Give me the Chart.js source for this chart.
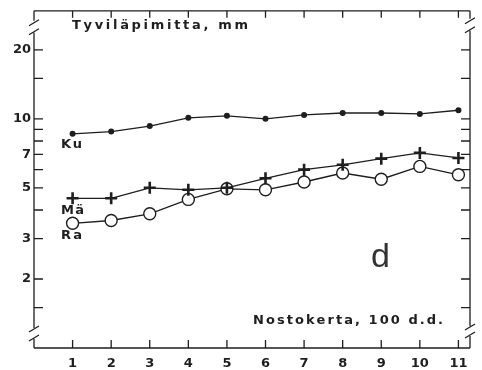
<!DOCTYPE html>
<html lang="fi">
<head>
<meta charset="UTF-8">
<title>Tyviläpimitta</title>
<script src="https://cdn.jsdelivr.net/npm/chart.js"></script>
<style>
  body { margin: 0; background: #fff; }
  canvas { display: block; }
</style>
</head>
<body>
<canvas id="chart" width="482" height="370"></canvas>
<script>
// data (log y axis)
const categories = [1, 2, 3, 4, 5, 6, 7, 8, 9, 10, 11];
const kuValues = [8.6, 8.8, 9.3, 10.1, 10.3, 10.0, 10.4, 10.6, 10.6, 10.5, 10.9];
const maValues = [4.5, 4.5, 5.0, 4.9, 5.0, 5.5, 6.0, 6.3, 6.7, 7.1, 6.75];
const raValues = [3.5, 3.6, 3.85, 4.45, 4.95, 4.9, 5.3, 5.8, 5.45, 6.2, 5.7];
const yTickValues = [1.5, 2, 3, 4, 5, 6, 7, 8, 9, 10, 15, 20];
const yTickLabels = [2, 3, 5, 7, 10, 20];

const ink = '#1e1e1e';
const boldFont = 'bold 13px "DejaVu Sans"';

function pts(values) {
    return categories.map((c, i) => ({ x: c, y: values[i] }));
}

// draw text with even letter spacing so it fills a given width
function spaced(ctx, text, x, y, width) {
    const chars = [...text];
    let total = 0;
    chars.forEach(ch => total += ctx.measureText(ch).width);
    const gap = chars.length > 1 ? (width - total) / (chars.length - 1) : 0;
    let cx = x;
    chars.forEach(ch => {
        ctx.fillText(ch, cx, y);
        cx += ctx.measureText(ch).width + gap;
    });
}

const framePlugin = {
    id: 'frame',
    beforeDatasetsDraw(chart) {
        const { ctx, chartArea: a, scales } = chart;
        const xs = scales.x, ys = scales.y;
        ctx.save();
        ctx.strokeStyle = ink;
        ctx.lineWidth = 1.3;
        ctx.beginPath();
        // top and bottom edges
        ctx.moveTo(a.left, a.top); ctx.lineTo(a.right, a.top);
        ctx.moveTo(a.left, a.bottom); ctx.lineTo(a.right, a.bottom);
        // left axis with two breaks
        ctx.moveTo(a.left, a.top); ctx.lineTo(a.left, a.top + 10);
        ctx.moveTo(a.left, a.top + 22); ctx.lineTo(a.left, a.bottom - 20);
        ctx.moveTo(a.left, a.bottom - 9); ctx.lineTo(a.left, a.bottom);
        // right axis with two breaks
        ctx.moveTo(a.right, a.top); ctx.lineTo(a.right, a.top + 8);
        ctx.moveTo(a.right, a.top + 20); ctx.lineTo(a.right, a.bottom - 22);
        ctx.moveTo(a.right, a.bottom - 12); ctx.lineTo(a.right, a.bottom);
        // break slashes
        [[a.left, a.top + 12], [a.left, a.top + 21], [a.left, a.bottom - 19], [a.left, a.bottom - 10],
         [a.right, a.top + 10], [a.right, a.top + 19], [a.right, a.bottom - 21], [a.right, a.bottom - 13]]
            .forEach(([x, y]) => { ctx.moveTo(x - 5, y + 3); ctx.lineTo(x + 5, y - 3); });
        // inward ticks on left and right
        ys.ticks.forEach(t => {
            const y = ys.getPixelForValue(t.value);
            ctx.moveTo(a.left, y); ctx.lineTo(a.left + 9, y);
            ctx.moveTo(a.right, y); ctx.lineTo(a.right - 9, y);
        });
        // inward ticks on top and bottom
        xs.ticks.forEach(t => {
            const x = xs.getPixelForValue(t.value);
            ctx.moveTo(x, a.top); ctx.lineTo(x, a.top + 7);
            ctx.moveTo(x, a.bottom); ctx.lineTo(x, a.bottom - 8);
        });
        ctx.stroke();
        ctx.restore();
    },
    afterDraw(chart) {
        const { ctx } = chart;
        ctx.save();
        ctx.fillStyle = ink;
        ctx.font = boldFont;
        ctx.textBaseline = 'middle';
        spaced(ctx, 'Tyviläpimitta, mm', 72, 26, 176);
        spaced(ctx, 'Nostokerta, 100 d.d.', 253, 321, 190);
        spaced(ctx, 'Ku', 61, 145, 21);
        spaced(ctx, 'Mä', 61, 211, 23);
        spaced(ctx, 'Ra', 61, 236, 21);
        ctx.font = '34px "Liberation Sans"';
        ctx.fillStyle = '#333';
        ctx.textBaseline = 'alphabetic';
        ctx.fillText('d', 371, 267);
        ctx.restore();
    }
};

new Chart(document.getElementById('chart'), {
    type: 'scatter',
    data: {
        datasets: [
            {
                label: 'Ku',
                data: pts(kuValues),
                showLine: true,
                borderColor: ink,
                borderWidth: 1.3,
                pointStyle: 'circle',
                pointRadius: 3,
                pointBackgroundColor: ink,
                pointBorderColor: ink,
                pointBorderWidth: 0
            },
            {
                label: 'Mä',
                data: pts(maValues),
                showLine: true,
                borderColor: ink,
                borderWidth: 1.3,
                pointStyle: 'cross',
                pointRadius: 6,
                pointBorderColor: ink,
                pointBorderWidth: 2.6
            },
            {
                label: 'Ra',
                data: pts(raValues),
                showLine: true,
                borderColor: ink,
                borderWidth: 1.3,
                pointStyle: 'circle',
                pointRadius: 6,
                pointBackgroundColor: '#fff',
                pointBorderColor: ink,
                pointBorderWidth: 1.4
            }
        ]
    },
    options: {
        responsive: false,
        animation: false,
        devicePixelRatio: 1,
        layout: { padding: { top: 7, right: 12, left: 0, bottom: 0 } },
        plugins: { legend: { display: false }, tooltip: { enabled: false } },
        scales: {
            x: {
                type: 'linear',
                min: 0,
                max: 11.3,
                grid: { display: false, drawTicks: false },
                border: { display: false },
                afterBuildTicks: s => { s.ticks = categories.map(v => ({ value: v })); },
                afterFit: s => { s.height = 22; },
                ticks: {
                    autoSkip: false,
                    padding: 8,
                    color: ink,
                    font: { family: 'DejaVu Sans', weight: 'bold', size: 13 },
                    maxRotation: 0
                }
            },
            y: {
                type: 'logarithmic',
                min: 1,
                max: 29.6,
                grid: { display: false, drawTicks: false },
                border: { display: false },
                afterBuildTicks: s => { s.ticks = yTickValues.map(v => ({ value: v })); },
                afterFit: s => { s.width = 34; },
                ticks: {
                    autoSkip: false,
                    padding: 3,
                    color: ink,
                    font: { family: 'DejaVu Sans', weight: 'bold', size: 13 },
                    callback: v => yTickLabels.includes(v) ? String(v) : ''
                }
            }
        }
    },
    plugins: [framePlugin]
});
</script>
</body>
</html>
